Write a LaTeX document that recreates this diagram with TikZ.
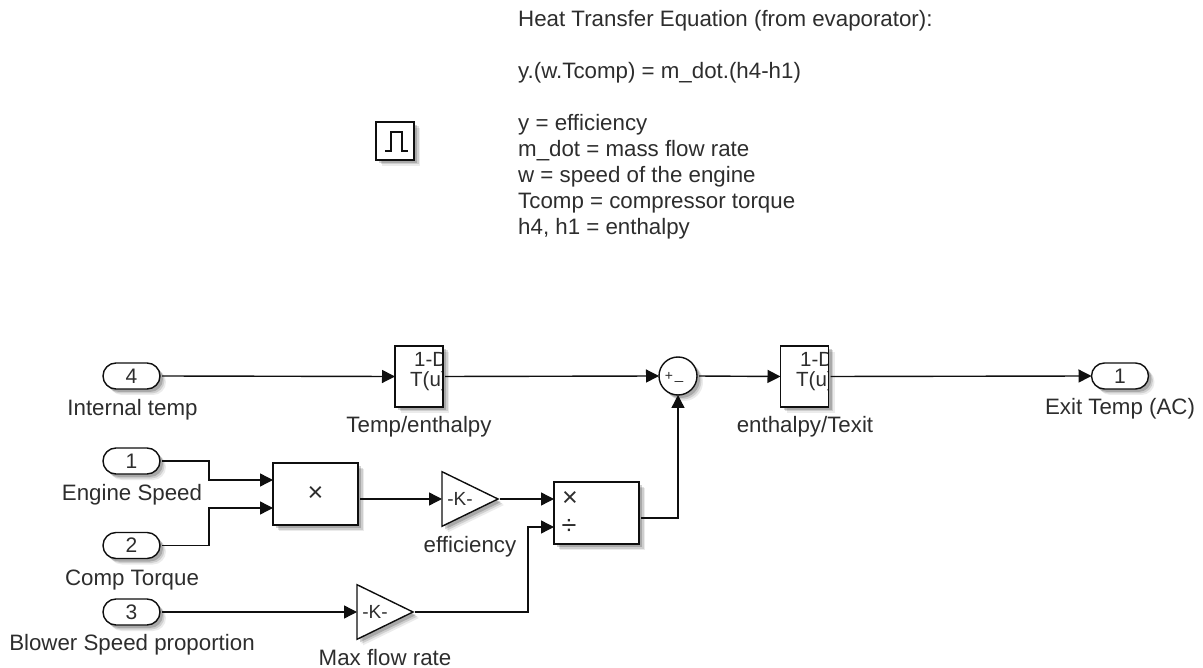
\documentclass[tikz,border=0pt]{standalone}
\usepackage{fontspec}
\usepackage{xcolor}
\usepackage{tikz}
\usetikzlibrary{arrows.meta,shapes.geometric,shapes.misc}
\setmainfont{Liberation Sans}
\definecolor{linecol}{RGB}{15,15,15}
\definecolor{textcol}{RGB}{45,45,45}
\tikzset{
  lbl/.style={font=\fontsize{22.3}{26}\selectfont,text=textcol,inner sep=0pt},
  caption/.style={lbl,anchor=base},
  softshade/.style={
    preaction={draw=none,fill=black,fill opacity=.08,transform canvas={shift={(6pt,-6pt)}}},
    preaction={draw=none,fill=black,fill opacity=.12,transform canvas={shift={(4.5pt,-4.5pt)}}},
    preaction={draw=none,fill=black,fill opacity=.18,transform canvas={shift={(3pt,-3pt)}}}},
  block/.style={draw=linecol,line width=1.4pt,fill=white,softshade,inner sep=0pt,outer sep=0pt,text=textcol,font=\fontsize{21}{24}\selectfont},
  port/.style={block,rounded rectangle,minimum width=57pt,minimum height=26pt},
  lut/.style={block,minimum width=48pt,minimum height=61pt},
  gain/.style={block,isosceles triangle,isosceles triangle apex angle=52,minimum height=56pt,anchor=lower side,font=\fontsize{19}{22}\selectfont},
  sig/.style={draw=linecol,line width=1.4pt,shorten <=2pt,-{Triangle[length=13pt,width=13pt]}},
}
\begin{document}
\begin{tikzpicture}[x=1pt,y=-1pt]
  \useasboundingbox (0,0) rectangle (1203,668);
  % Notes and pulse icon
  \node[lbl,anchor=north west,align=left] (notes) at (518,10) {Heat Transfer Equation (from evaporator):\\[26pt]
    y.(w.Tcomp) = m\_dot.(h4-h1)\\[26pt]
    y = efficiency\\ m\_dot = mass flow rate\\ w = speed of the engine\\ Tcomp = compressor torque\\ h4, h1 = enthalpy};
  \node[block,minimum width=38pt,minimum height=38pt] (pulse) at (395,141) {};
  \draw[linecol,line width=1.4pt] (385,151) -- (391,151) -- (391,132) -- (402,132) -- (402,151) -- (408,151);
  % Ports
  \node[port] (in4) at (131.5,376) {4};
  \node[port] (in1) at (131.5,461) {1};
  \node[port] (in2) at (131.5,545.5) {2};
  \node[port] (in3) at (131.5,612) {3};
  \node[port] (out1) at (1120,376) {1};
  % Blocks
  \node[lut] (temp) at (419,376.5) {};
  \node[lut] (enth) at (804.5,376.5) {};
  \node[block,minimum width=85pt,minimum height=62pt,font=\fontsize{27}{27}\selectfont] (prod) at (315.5,494) {×};
  \node[block,minimum width=85pt,minimum height=62pt] (div) at (596.5,513) {};
  \node[lbl,font=\fontsize{27}{27}\selectfont] (divtimes) at (570,499) {×};
  \node[lbl,font=\fontsize{27}{27}\selectfont] (divover) at (569,527) {÷};
  \node[gain] (eff) at (442,499) {-K-};
  \node[gain] (maxf) at (357,612) {-K-};
  \node[block,circle,minimum size=38pt] (sum) at (678,376) {};
  \node[lbl,font=\fontsize{14}{14}\selectfont] (sumplus) at (669,376) {+};
  \node[lbl,font=\fontsize{15}{15}\selectfont] (summinus) at (679,381) {\_};
  % Clipped table text
  \foreach \n/\xa in {temp/395,enth/781} {
    \begin{scope}
      \clip (\n.south west) rectangle (\n.north east);
      \node[lbl,anchor=base west,font=\fontsize{20.5}{24}\selectfont] at (\xa+19,367) {1-D};
      \node[lbl,anchor=base west,font=\fontsize{20.5}{24}\selectfont] at (\xa+15,387) {T(u)};
    \end{scope}
    \draw[linecol,line width=1.4pt] (\n.south west) rectangle (\n.north east);
  }
  % Labels
  \node[caption] (l4) at (132.5,416) {Internal temp};
  \node[caption] (l1) at (132,500) {Engine Speed};
  \node[caption] (l2) at (132,585) {Comp Torque};
  \node[caption] (l3) at (132,650) {Blower Speed proportion};
  \node[caption] (ltemp) at (419,432) {Temp/enthalpy};
  \node[caption] (leff) at (470,552) {efficiency};
  \node[caption] (lmax) at (385,665) {Max flow rate};
  \node[caption] (lenth) at (805,432) {enthalpy/Texit};
  \node[caption] (lout) at (1120,415) {Exit Temp (AC)};
  % Signals
  \coordinate (prodA) at (273,480);
  \coordinate (prodB) at (273,508);
  \coordinate (divA) at (554,499);
  \coordinate (divB) at (554,527);
  \coordinate (prodout) at (358,499);
  \coordinate (divout) at (639,518);
  \draw[sig] (in4.east) -- (temp.west);
  \draw[sig] (temp.east) -- (sum.west);
  \draw[sig] (sum.east) -- (enth.west);
  \draw[sig] (enth.east) -- (out1.west);
  \draw[sig] (in1.east) -- (209,461) |- (prodA);
  \draw[sig] (in2.east) -- (209,545.5) |- (prodB);
  \draw[sig] (in3.east) -- (maxf.lower side);
  \draw[sig] (prodout) -- (eff.lower side);
  \draw[sig] (eff.apex) -- (divA);
  \draw[sig] (maxf.apex) -- (528,612) |- (divB);
  \draw[sig] (divout) -| (sum.south);
\end{tikzpicture}
\end{document}
